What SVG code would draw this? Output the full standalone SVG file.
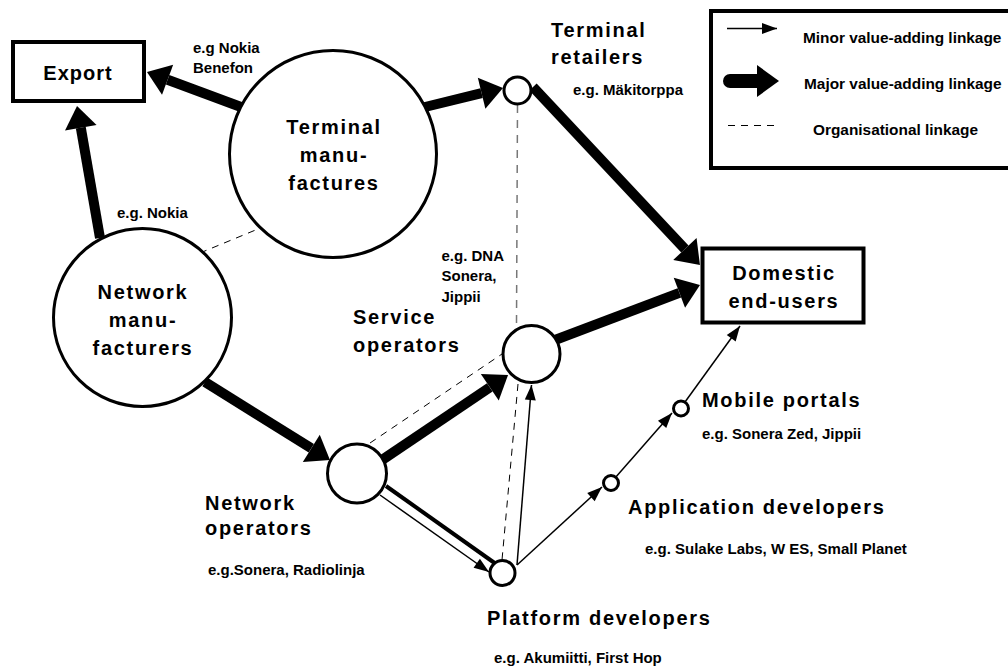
<svg xmlns="http://www.w3.org/2000/svg" width="1008" height="667" viewBox="0 0 1008 667">
  <style>
    text { font-family: "Liberation Sans", Arial, sans-serif; font-weight: bold; fill: #000; }
    .title { font-size: 20px; letter-spacing: 1.7px; }
    .mid { text-anchor: middle; }
    .note { font-size: 15px; }
    .legend { font-size: 15.4px; }
    .node { fill: #fff; stroke: #000; stroke-width: 3; }
    .box { fill: #fff; stroke: #000; stroke-width: 4; }
    .major { fill: none; stroke: #000; stroke-width: 10; marker-end: url(#headMajor); }
    .minor { fill: none; stroke: #000; stroke-width: 1.5; marker-end: url(#headMinor); }
    .org { fill: none; stroke: #000; stroke-width: 1; stroke-dasharray: 7 6; }
    .orgGrey { fill: none; stroke: #777; stroke-width: 1.5; stroke-dasharray: 8 7; }
  </style>
  <defs>
    <!-- heavy arrowhead; the line stops at the base of the head -->
    <marker id="headMajor" markerUnits="userSpaceOnUse" markerWidth="24" markerHeight="34" refX="0" refY="16" orient="auto" overflow="visible">
      <path d="M0,0 L22,16 L0,32 Z" fill="#000"/>
    </marker>
    <!-- light arrowhead; tip sits on the line end -->
    <marker id="headMinor" markerUnits="userSpaceOnUse" markerWidth="16" markerHeight="12" refX="15" refY="5.5" orient="auto" overflow="visible">
      <path d="M0,0 L15,5.5 L0,11 Z" fill="#000"/>
    </marker>
  </defs>

  <rect width="1008" height="667" fill="#fff"/>

  <!-- connectors -->
  <g id="connectors">
    <!-- organisational linkages -->
    <line class="org" x1="200" y1="253" x2="258" y2="229"/>
    <line class="orgGrey" x1="517.5" y1="105" x2="516.5" y2="325"/>
    <line class="org" x1="518" y1="384" x2="502" y2="560"/>
    <line class="org" x1="370" y1="443" x2="502" y2="354"/>

    <!-- major value-adding linkages -->
    <line class="major" x1="241" y1="107" x2="167.6" y2="79.7"/>
    <line class="major" x1="100" y1="238" x2="80.8" y2="127.7"/>
    <line class="major" x1="425" y1="107" x2="481.6" y2="93.2"/>
    <line class="major" x1="533" y1="87" x2="684.9" y2="249"/>
    <line class="major" x1="555" y1="340" x2="679.4" y2="292.8"/>
    <line class="major" x1="205" y1="382" x2="311.3" y2="448.3"/>
    <line class="major" x1="382" y1="460" x2="489.8" y2="387.3"/>

    <!-- network operators to platform developers: heavy rail with light arrow -->
    <line x1="386" y1="486" x2="496" y2="564" stroke="#000" stroke-width="4"/>
    <line class="minor" x1="380" y1="495" x2="489" y2="572"/>

    <!-- minor value-adding linkages -->
    <line class="minor" x1="517" y1="565" x2="531.5" y2="385"/>
    <line class="minor" x1="517" y1="565" x2="602" y2="487"/>
    <line class="minor" x1="615" y1="478" x2="672" y2="413"/>
    <line class="minor" x1="685" y1="402" x2="740" y2="326"/>
  </g>

  <!-- nodes -->
  <g id="export">
    <rect class="box" x="13" y="42" width="131" height="59"/>
    <text class="title mid" x="78" y="80" style="letter-spacing:1px">Export</text>
  </g>

  <g id="terminal-manufactures">
    <circle class="node" cx="333" cy="154" r="103.5"/>
    <text class="title mid" x="334" y="134">Terminal</text>
    <text class="title mid" x="334" y="162">manu-</text>
    <text class="title mid" x="334" y="190">factures</text>
  </g>
  <g id="terminal-manufactures-note">
    <text class="note" x="193" y="53">e.g Nokia</text>
    <text class="note" x="193" y="72.5">Benefon</text>
  </g>

  <g id="network-manufacturers">
    <circle class="node" cx="142.5" cy="317.5" r="89"/>
    <text class="title mid" x="143" y="299">Network</text>
    <text class="title mid" x="143" y="327">manu-</text>
    <text class="title mid" x="143" y="355">facturers</text>
  </g>
  <g id="network-manufacturers-note">
    <text class="note" x="117" y="218">e.g. Nokia</text>
  </g>

  <g id="terminal-retailers">
    <circle class="node" cx="517.5" cy="90.5" r="13.5"/>
    <text class="title" x="551" y="36.5">Terminal</text>
    <text class="title" x="551" y="64">retailers</text>
    <text class="note" x="573" y="95">e.g. Mäkitorppa</text>
  </g>

  <g id="domestic-end-users">
    <rect class="box" x="702.5" y="248.5" width="161" height="74"/>
    <text class="title mid" x="784" y="279.5">Domestic</text>
    <text class="title mid" x="784" y="307.5">end-users</text>
  </g>

  <g id="service-operators">
    <circle class="node" cx="531.5" cy="354" r="28.5"/>
    <text class="title" x="353" y="324">Service</text>
    <text class="title" x="353" y="351.5">operators</text>
    <text class="note" x="441.5" y="260.5">e.g. DNA</text>
    <text class="note" x="441.5" y="281">Sonera,</text>
    <text class="note" x="441.5" y="301.5">Jippii</text>
  </g>

  <g id="network-operators">
    <circle class="node" cx="357" cy="473.5" r="29.5"/>
    <text class="title" x="205" y="509.5">Network</text>
    <text class="title" x="205" y="535">operators</text>
    <text class="note" x="208" y="575">e.g.Sonera, Radiolinja</text>
  </g>

  <g id="platform-developers">
    <circle class="node" cx="502.5" cy="573" r="12.5"/>
    <text class="title" x="487" y="625">Platform developers</text>
    <text class="note" x="494" y="662.5">e.g. Akumiitti, First Hop</text>
  </g>

  <g id="application-developers">
    <circle class="node" cx="611" cy="483" r="7.5"/>
    <text class="title" x="628" y="513.5">Application developers</text>
    <text class="note" x="645" y="554">e.g. Sulake Labs, W ES, Small Planet</text>
  </g>

  <g id="mobile-portals">
    <circle class="node" cx="681" cy="408.5" r="7.5"/>
    <text class="title" x="702" y="406.5">Mobile portals</text>
    <text class="note" x="702" y="438.5">e.g. Sonera Zed, Jippii</text>
  </g>

  <!-- key -->
  <g id="legend">
    <rect x="711" y="11" width="320" height="157" fill="#fff" stroke="#000" stroke-width="4"/>
    <line x1="727" y1="28.5" x2="777" y2="28.5" stroke="#000" stroke-width="1.5" marker-end="url(#headMinor)"/>
    <text class="legend" x="803" y="42.5">Minor value-adding linkage</text>
    <line x1="730" y1="81" x2="757" y2="81" stroke="#000" stroke-width="14" stroke-linecap="round"/>
    <path d="M757,65 L779,81 L757,97 Z" fill="#000"/>
    <text class="legend" x="804" y="89">Major value-adding linkage</text>
    <line class="org" x1="728" y1="125.5" x2="779" y2="125.5" stroke-dasharray="6 7"/>
    <text class="legend" x="813" y="135">Organisational linkage</text>
  </g>
</svg>
